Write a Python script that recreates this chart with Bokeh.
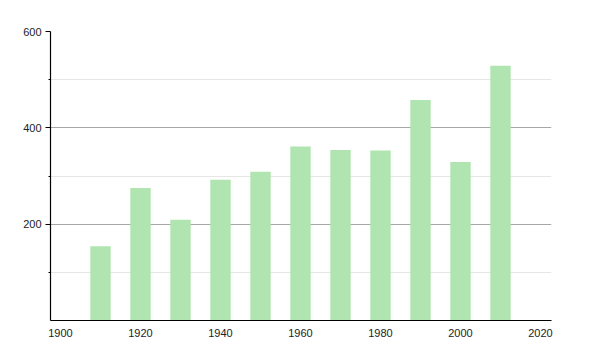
from bokeh.plotting import figure
from bokeh.models import FixedTicker, Range1d
from bokeh.embed import file_html
from bokeh.resources import INLINE

years = [1910, 1920, 1930, 1940, 1950, 1960, 1970, 1980, 1990, 2000, 2010]
values = [154, 275, 209, 292, 309, 361, 354, 353, 458, 329, 529]
x_ticks = [1900, 1920, 1940, 1960, 1980, 2000, 2020]
y_major = [200, 400, 600]
y_minor = [100, 300, 500]

p = figure(width=600, height=350, output_backend="svg", toolbar_location=None,
           x_range=Range1d(1897.5, 2022.75), y_range=Range1d(0, 600),
           min_border_left=50, min_border_right=49, min_border_top=31, min_border_bottom=30)
p.outline_line_color = None
p.background_fill_color = "white"

p.vbar(x=years, top=values, width=5.1, bottom=0, fill_color="#b0e4b0", line_color=None)

p.xgrid.grid_line_color = None
p.ygrid.grid_line_color = "#a8a8a8"
p.ygrid.minor_grid_line_color = "#e6e6e6"

p.yaxis.ticker = FixedTicker(ticks=y_major, minor_ticks=y_minor)
p.ygrid.ticker = FixedTicker(ticks=y_major, minor_ticks=y_minor)
p.xaxis.ticker = FixedTicker(ticks=x_ticks)

for ax in (p.xaxis, p.yaxis):
    ax.axis_line_color = "black"
    ax.axis_line_width = 1.2
    ax.major_label_text_font = "Liberation Sans"
    ax.major_label_text_font_size = "11px"
    ax.major_label_text_color = "#222222"

p.yaxis.major_tick_line_color = "black"
p.yaxis.major_tick_in = 0
p.yaxis.major_tick_out = 5
p.yaxis.minor_tick_line_color = "black"
p.yaxis.minor_tick_in = 0
p.yaxis.minor_tick_out = 2
p.yaxis.major_label_standoff = 4

p.xaxis.major_tick_line_color = None
p.xaxis.minor_tick_line_color = None
p.xaxis.major_label_standoff = 2

open("out.html", "w").write(file_html(p, INLINE))
